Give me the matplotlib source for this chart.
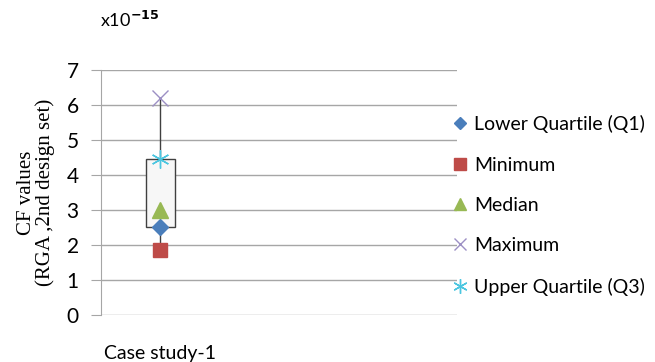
import matplotlib.pyplot as plt

plt.rcParams['font.family'] = ['Lato', 'DejaVu Sans']

# data (units of 1e-15)
categories = ["Case study-1"]
q1 = [2.5]
minimum = [1.85]
median = [3.0]
maximum = [6.2]
q3 = [4.45]

fig = plt.figure(figsize=(6.55, 3.62), dpi=100)
ax = fig.add_axes([0.154, 0.130, 0.544, 0.677])

x = list(range(len(categories)))
grid_c = "#a6a6a6"

# box and whiskers
for i in x:
    ax.vlines(i, q3[i], maximum[i], color="#404040", lw=1, zorder=2)
    ax.vlines(i, minimum[i], q1[i], color="#404040", lw=1, zorder=2)
    ax.bar(i, q3[i] - q1[i], bottom=q1[i], width=0.245, color="#f7f7f7",
           edgecolor="#404040", lw=1, zorder=2)

ax.plot(x, q1, ls="none", marker="D", ms=8, color="#4a7ebb", label="Lower Quartile (Q1)", zorder=4)
ax.plot(x, minimum, ls="none", marker="s", ms=10, color="#be4b48", label="Minimum", zorder=4)
ax.plot(x, median, ls="none", marker="^", ms=11, color="#98b954", label="Median", zorder=4)
ax.plot(x, maximum, ls="none", marker="x", ms=11, mew=1, color="#9c8fc4", label="Maximum", zorder=4)
ax.plot(x, q3, ls="none", marker=(6, 2, 0), ms=13, mew=1, color="#4bc6e0", label="Upper Quartile (Q3)", zorder=4)

ax.set_xlim(-0.5, 2.5)
ax.set_ylim(0, 7)
ax.set_xticks(x)
ax.set_xticklabels(categories, fontsize=14)
ax.set_yticks(range(8))
ax.tick_params(axis="y", labelsize=15, length=7, color=grid_c, pad=9)
ax.tick_params(axis="x", length=0, pad=22)

ax.grid(axis="y", color=grid_c, lw=1)
ax.set_axisbelow(True)
for s in ["top", "right", "bottom"]:
    ax.spines[s].set_visible(False)
ax.spines["left"].set_color(grid_c)

ax.set_ylabel("CF values\n(RGA ,2nd design set)", family="Liberation Serif",
              fontsize=15, labelpad=8, linespacing=1.0)

fig.text(0.153, 0.945, r"x10$^{\mathbf{-15}}$", fontsize=13, ha="left", va="center")

ax.legend(loc="center left", bbox_to_anchor=(0.985, 0.447), frameon=False,
          fontsize=14, labelspacing=1.2, handlelength=0.8, handletextpad=0.35,
          borderaxespad=0, borderpad=0, markerscale=0.8)

fig.savefig("out.png", dpi=100)
